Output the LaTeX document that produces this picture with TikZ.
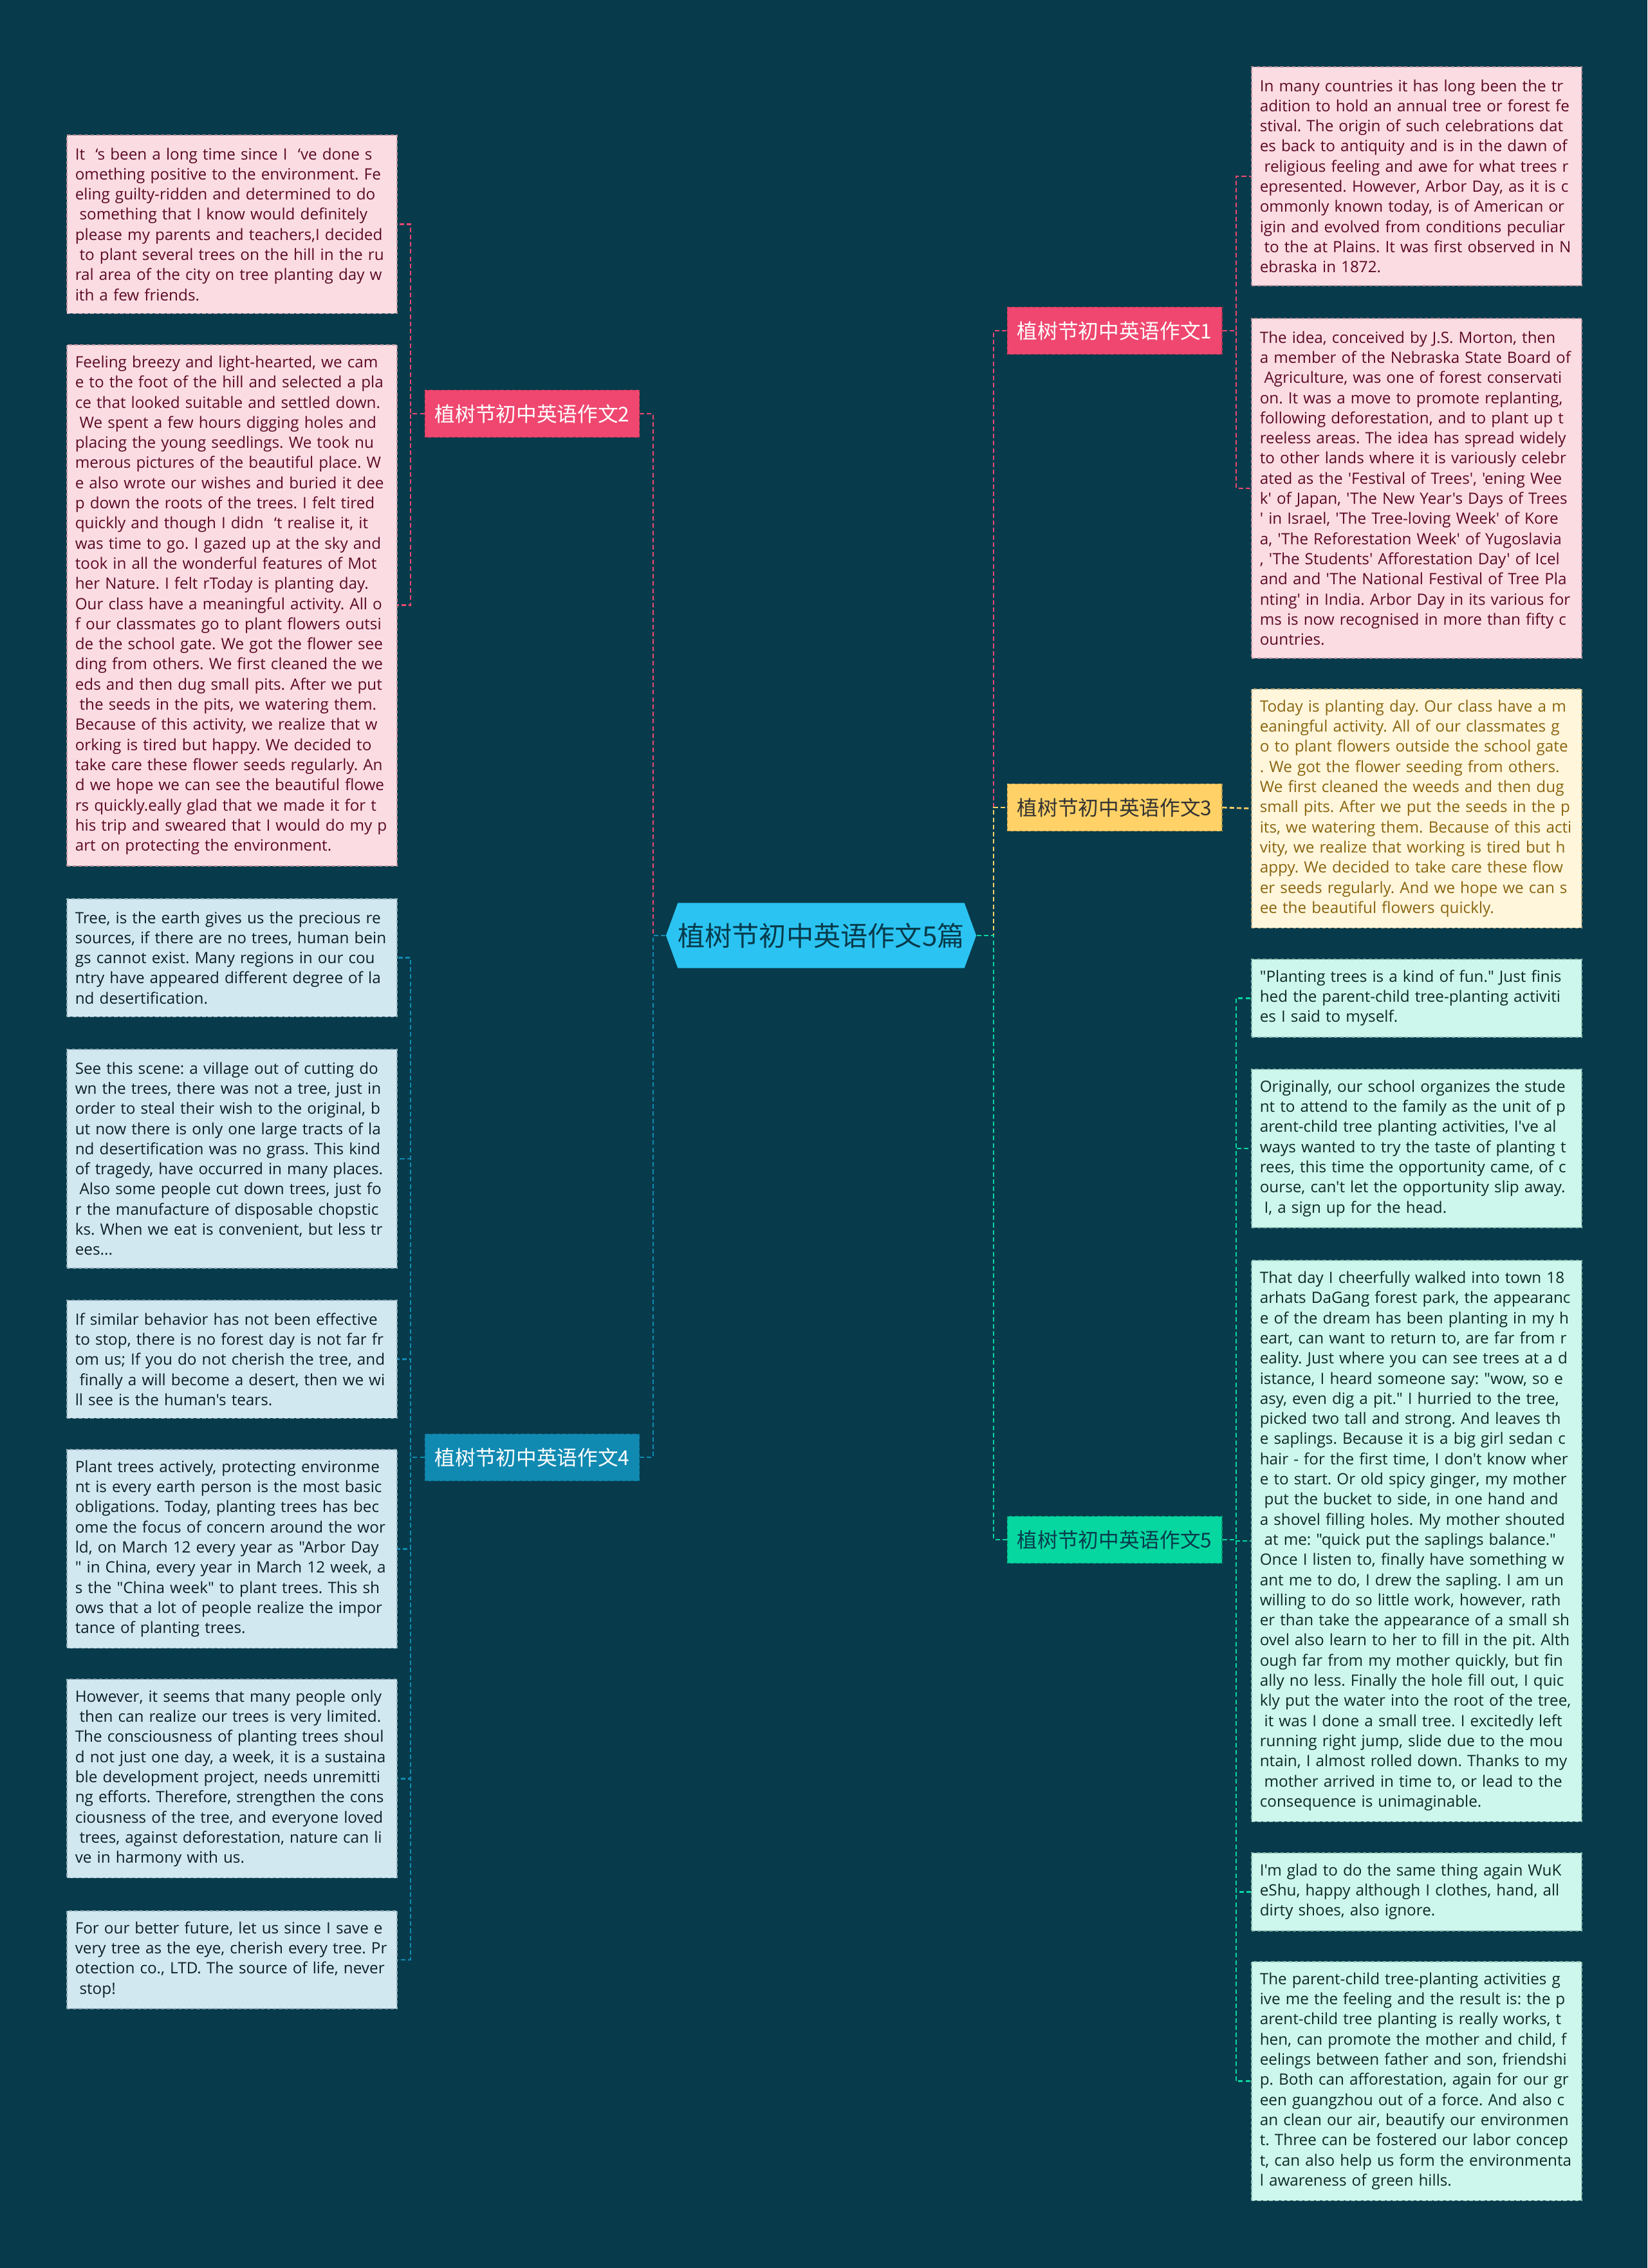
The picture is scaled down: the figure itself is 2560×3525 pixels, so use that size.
\documentclass[tikz,border=0pt]{standalone}
\usepackage{fontspec}
\setmainfont{Open Sans}[Ligatures=TeXOff]
\newfontfamily\cjk{Noto Sans CJK SC}
\usepackage{tikz}
\usetikzlibrary{shapes.symbols}
\definecolor{bgc}{HTML}{073B4C}
\definecolor{pinkc}{HTML}{EF476F}
\definecolor{yellowc}{HTML}{FFD166}
\definecolor{greenc}{HTML}{06D6A0}
\definecolor{bluec}{HTML}{118AB2}
\definecolor{rootc}{HTML}{2BC4F2}
\definecolor{pinkpale}{HTML}{FBDCE3}
\definecolor{pinkedge}{HTML}{B9929C}
\definecolor{pinkink}{HTML}{5B0A25}
\definecolor{bluepale}{HTML}{D2E8F0}
\definecolor{blueedge}{HTML}{8FAAB5}
\definecolor{blueink}{HTML}{0D1F26}
\definecolor{yellowpale}{HTML}{FFF6DC}
\definecolor{yellowedge}{HTML}{B9A77C}
\definecolor{yellowink}{HTML}{8A6510}
\definecolor{greenpale}{HTML}{CDF6EC}
\definecolor{greenedge}{HTML}{8CBCAF}
\definecolor{greenink}{HTML}{0E2A25}
\newcommand{\notefont}{\fontsize{6.9}{8.9}\selectfont\frenchspacing}
\newcommand{\indsp}{\hspace*{.28em}}
\tikzset{
  note/.style={draw,dash pattern=on 1.6pt off 1pt,line width=.45pt,anchor=north west,
    minimum width=5.13cm,text width=4.87cm,align=left,inner xsep=1.3mm,inner ysep=0pt,font=\notefont},
  nlines/.style={minimum height=#1*3.13mm+2.7mm},
  pinknote/.style={note,fill=pinkpale,draw=pinkedge,text=pinkink},
  bluenote/.style={note,fill=bluepale,draw=blueedge,text=blueink},
  yellownote/.style={note,fill=yellowpale,draw=yellowedge,text=yellowink},
  greennote/.style={note,fill=greenpale,draw=greenedge,text=greenink},
  branch/.style={minimum width=3.33cm,minimum height=.73cm,inner sep=0pt,line width=.5pt,
    dash pattern=on 1.6pt off 1pt,font=\cjk\fontsize{9}{10}\selectfont},
  root/.style={signal,signal to=west and east,signal pointer angle=140,fill=rootc,
    minimum width=4.77cm,minimum height=1.01cm,inner sep=0pt,text=bgc,
    font=\cjk\fontsize{12}{14}\selectfont},
  link/.style={line width=.75pt,dash pattern=on 2pt off 1.2pt},
}

\begin{document}
\begin{tikzpicture}[x=0.01cm,y=-0.01cm]
  \fill[bgc] (0,0) rectangle (2560,3525);

  \node[root] (root) at (1276,1454) {植树节初中英语作文5篇};
  \node[branch,fill=pinkc,draw=pinkc!75!black,text=white] (b1) at (1732,514) {植树节初中英语作文1};
  \node[branch,fill=pinkc,draw=pinkc!75!black,text=white] (b2) at (827,643) {植树节初中英语作文2};
  \node[branch,fill=yellowc,draw=yellowc!70!black,text=black!80] (b3) at (1732,1255) {植树节初中英语作文3};
  \node[branch,fill=bluec,draw=bluec!75!black,text=white] (b4) at (827,2265) {植树节初中英语作文4};
  \node[branch,fill=greenc,draw=greenc!70!black,text=bgc] (b5) at (1732,2393) {植树节初中英语作文5};

  % left side notes
  \node[pinknote,nlines=8] (n2a) at (103,209) {It \ ‘s been a long time since I \ ‘ve done s\\
    omething positive to the environment. Fe\\eling guilty-ridden and determined to do\\
    \indsp something that I know would definitely\\please my parents and teachers,I decided\\
    \indsp to plant several trees on the hill in the ru\\ral area of the city on tree planting day w\\
    ith a few friends.};
  \node[pinknote,nlines=25] (n2b) at (103,535) {Feeling breezy and light-hearted, we cam\\
    e to the foot of the hill and selected a pla\\ce that looked suitable and settled down.\\
    \indsp We spent a few hours digging holes and\\placing the young seedlings. We took nu\\
    merous pictures of the beautiful place. W\\e also wrote our wishes and buried it dee\\
    p down the roots of the trees. I felt tired\\quickly and though I didn \ ‘t realise it, it\\
    was time to go. I gazed up at the sky and\\took in all the wonderful features of Mot\\
    her Nature. I felt rToday is planting day.\\Our class have a meaningful activity. All o\\
    f our classmates go to plant flowers outsi\\de the school gate. We got the flower see\\
    ding from others. We first cleaned the we\\eds and then dug small pits. After we put\\
    \indsp the seeds in the pits, we watering them.\\Because of this activity, we realize that w\\
    orking is tired but happy. We decided to\\take care these flower seeds regularly. An\\
    d we hope we can see the beautiful flowe\\rs quickly.eally glad that we made it for t\\
    his trip and sweared that I would do my p\\art on protecting the environment.};
  \node[bluenote,nlines=5] (n4a) at (103,1396) {Tree, is the earth gives us the precious re\\
    sources, if there are no trees, human bein\\gs cannot exist. Many regions in our cou\\
    ntry have appeared different degree of la\\nd desertification.};
  \node[bluenote,nlines=10] (n4b) at (103,1630) {See this scene: a village out of cutting do\\
    wn the trees, there was not a tree, just in\\order to steal their wish to the original, b\\
    ut now there is only one large tracts of la\\nd desertification was no grass. This kind\\
    of tragedy, have occurred in many places.\\\indsp Also some people cut down trees, just fo\\
    r the manufacture of disposable chopstic\\ks. When we eat is convenient, but less tr\\ees...};
  \node[bluenote,nlines=5] (n4c) at (103,2020) {If similar behavior has not been effective\\
    to stop, there is no forest day is not far fr\\om us; If you do not cherish the tree, and\\
    \indsp finally a will become a desert, then we wi\\ll see is the human's tears.};
  \node[bluenote,nlines=9] (n4d) at (103,2252) {Plant trees actively, protecting environme\\
    nt is every earth person is the most basic\\obligations. Today, planting trees has bec\\
    ome the focus of concern around the wor\\ld, on March 12 every year as "Arbor Day\\
    " in China, every year in March 12 week, a\\s the "China week" to plant trees. This sh\\
    ows that a lot of people realize the impor\\tance of planting trees.};
  \node[bluenote,nlines=9] (n4e) at (103,2609) {However, it seems that many people only\\
    \indsp then can realize our trees is very limited.\\The consciousness of planting trees shoul\\
    d not just one day, a week, it is a sustaina\\ble development project, needs unremitti\\
    ng efforts. Therefore, strengthen the cons\\ciousness of the tree, and everyone loved\\
    \indsp trees, against deforestation, nature can li\\ve in harmony with us.};
  \node[bluenote,nlines=4] (n4f) at (103,2969) {For our better future, let us since I save e\\
    very tree as the eye, cherish every tree. Pr\\otection co., LTD. The source of life, never\\
    \indsp stop!};

  % right side notes
  \node[pinknote,nlines=10] (n1a) at (1944,103) {In many countries it has long been the tr\\
    adition to hold an annual tree or forest fe\\stival. The origin of such celebrations dat\\
    es back to antiquity and is in the dawn of\\\indsp religious feeling and awe for what trees r\\
    epresented. However, Arbor Day, as it is c\\ommonly known today, is of American or\\
    igin and evolved from conditions peculiar\\\indsp to the at Plains. It was first observed in N\\
    ebraska in 1872.};
  \node[pinknote,nlines=16] (n1b) at (1944,494) {The idea, conceived by J.S. Morton, then\\
    a member of the Nebraska State Board of\\\indsp Agriculture, was one of forest conservati\\
    on. It was a move to promote replanting,\\following deforestation, and to plant up t\\
    reeless areas. The idea has spread widely\\to other lands where it is variously celebr\\
    ated as the 'Festival of Trees', 'ening Wee\\k' of Japan, 'The New Year's Days of Trees\\
    ' in Israel, 'The Tree-loving Week' of Kore\\a, 'The Reforestation Week' of Yugoslavia\\
    , 'The Students' Afforestation Day' of Icel\\and and 'The National Festival of Tree Pla\\
    nting' in India. Arbor Day in its various for\\ms is now recognised in more than fifty c\\
    ountries.};
  \node[yellownote,nlines=11] (n3a) at (1944,1070) {Today is planting day. Our class have a m\\
    eaningful activity. All of our classmates g\\o to plant flowers outside the school gate\\
    . We got the flower seeding from others.\\We first cleaned the weeds and then dug\\
    small pits. After we put the seeds in the p\\its, we watering them. Because of this acti\\
    vity, we realize that working is tired but h\\appy. We decided to take care these flow\\
    er seeds regularly. And we hope we can s\\ee the beautiful flowers quickly.};
  \node[greennote,nlines=3] (n5a) at (1944,1490) {"Planting trees is a kind of fun." Just finis\\
    hed the parent-child tree-planting activiti\\es I said to myself.};
  \node[greennote,nlines=7] (n5b) at (1944,1661) {Originally, our school organizes the stude\\
    nt to attend to the family as the unit of p\\arent-child tree planting activities, I've al\\
    ways wanted to try the taste of planting t\\rees, this time the opportunity came, of c\\
    ourse, can't let the opportunity slip away.\\\indsp I, a sign up for the head.};
  \node[greennote,nlines=27] (n5c) at (1944,1958) {That day I cheerfully walked into town 18\\
    arhats DaGang forest park, the appearanc\\e of the dream has been planting in my h\\
    eart, can want to return to, are far from r\\eality. Just where you can see trees at a d\\
    istance, I heard someone say: "wow, so e\\asy, even dig a pit." I hurried to the tree,\\
    picked two tall and strong. And leaves th\\e saplings. Because it is a big girl sedan c\\
    hair - for the first time, I don't know wher\\e to start. Or old spicy ginger, my mother\\
    \indsp put the bucket to side, in one hand and\\a shovel filling holes. My mother shouted\\
    \indsp at me: "quick put the saplings balance."\\Once I listen to, finally have something w\\
    ant me to do, I drew the sapling. I am un\\willing to do so little work, however, rath\\
    er than take the appearance of a small sh\\ovel also learn to her to fill in the pit. Alth\\
    ough far from my mother quickly, but fin\\ally no less. Finally the hole fill out, I quic\\
    kly put the water into the root of the tree,\\\indsp it was I done a small tree. I excitedly left\\
    running right jump, slide due to the mou\\ntain, I almost rolled down. Thanks to my\\
    \indsp mother arrived in time to, or lead to the\\consequence is unimaginable.};
  \node[greennote,nlines=3] (n5d) at (1944,2879) {I'm glad to do the same thing again WuK\\
    eShu, happy although I clothes, hand, all\\dirty shoes, also ignore.};
  \node[greennote,nlines=11] (n5e) at (1944,3048) {The parent-child tree-planting activities g\\
    ive me the feeling and the result is: the p\\arent-child tree planting is really works, t\\
    hen, can promote the mother and child, f\\eelings between father and son, friendshi\\
    p. Both can afforestation, again for our gr\\een guangzhou out of a force. And also c\\
    an clean our air, beautify our environmen\\t. Three can be fostered our labor concep\\
    t, can also help us form the environmenta\\l awareness of green hills.};

  % connectors
  \coordinate (lbus) at (1015,1454);
  \coordinate (rbus) at (1544,1454);
  \draw[link,pinkc] (root.west) -- (lbus) |- (b2.east);
  \draw[link,bluec] (root.west) -- (lbus) |- (b4.east);
  \draw[link,pinkc] (root.east) -- (rbus) |- (b1.west);
  \draw[link,yellowc] (root.east) -- (rbus) |- (b3.west);
  \draw[link,greenc] (root.east) -- (rbus) |- (b5.west);

  \coordinate (bus2) at (638,643);
  \coordinate (bus4) at (638,2265);
  \coordinate (bus1) at (1921,514);
  \coordinate (bus5) at (1921,2393);
  \foreach \n in {n2a,n2b}{\draw[link,pinkc] (b2.west) -- (bus2) |- (\n.east);}
  \foreach \n in {n4a,n4b,n4c,n4d,n4e,n4f}{\draw[link,bluec] (b4.west) -- (bus4) |- (\n.east);}
  \foreach \n in {n1a,n1b}{\draw[link,pinkc] (b1.east) -- (bus1) |- (\n.west);}
  \draw[link,yellowc] (b3.east) -- (n3a.west);
  \foreach \n in {n5a,n5b,n5c,n5d,n5e}{\draw[link,greenc] (b5.east) -- (bus5) |- (\n.west);}
\end{tikzpicture}
\end{document}
